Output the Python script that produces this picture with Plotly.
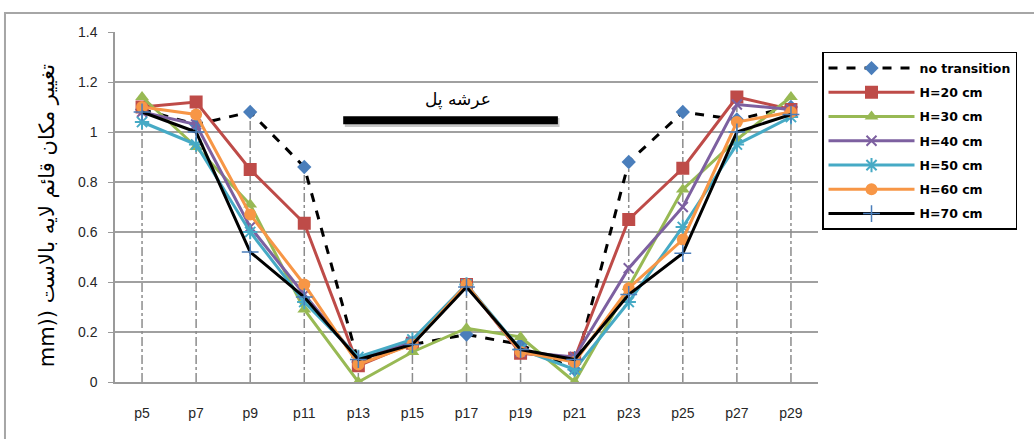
import plotly.graph_objects as go

categories = ["p5", "p7", "p9", "p11", "p13", "p15", "p17", "p19", "p21", "p23", "p25", "p27", "p29"]

no_transition = [1.09, 1.03, 1.08, 0.86, 0.08, 0.15, 0.19, 0.15, 0.05, 0.88, 1.08, 1.05, 1.10]
h20 = [1.10, 1.12, 0.85, 0.635, 0.065, 0.155, 0.39, 0.115, 0.095, 0.65, 0.855, 1.14, 1.09]
h30 = [1.14, 0.94, 0.71, 0.29, 0.00, 0.12, 0.215, 0.18, 0.00, 0.38, 0.77, 0.97, 1.14]
h40 = [1.08, 1.03, 0.62, 0.35, 0.09, 0.16, 0.39, 0.12, 0.10, 0.455, 0.70, 1.11, 1.09]
h50 = [1.04, 0.95, 0.60, 0.32, 0.10, 0.17, 0.39, 0.13, 0.05, 0.32, 0.62, 0.95, 1.06]
h60 = [1.10, 1.07, 0.67, 0.39, 0.07, 0.15, 0.39, 0.12, 0.08, 0.375, 0.57, 1.04, 1.08]
h70 = [1.08, 1.00, 0.52, 0.34, 0.09, 0.15, 0.38, 0.13, 0.09, 0.35, 0.515, 1.00, 1.07]

series_names = ["no transition", "H=20 cm", "H=30 cm", "H=40 cm", "H=50 cm", "H=60 cm", "H=70 cm"]
y_ticks = [0, 0.2, 0.4, 0.6, 0.8, 1, 1.2, 1.4]
y_tick_labels = ["0", "0.2", "0.4", "0.6", "0.8", "1", "1.2", "1.4"]
deck_label = "عرشه پل"
y_title = "mm)) تغییر مکان قائم لایه بالاست"

all_series = [no_transition, h20, h30, h40, h50, h60, h70]
styles = [
    dict(line=dict(color="black", width=3, dash="dash"), marker=dict(symbol="diamond", size=11, color="#4a7ebb")),
    dict(line=dict(color="#be4b48", width=3), marker=dict(symbol="square", size=13, color="#be4b48")),
    dict(line=dict(color="#98b954", width=3), marker=dict(symbol="triangle-up", size=12, color="#98b954")),
    dict(line=dict(color="#7d60a0", width=3), marker=dict(symbol="x-thin", size=10, color="#7d60a0", line=dict(width=2, color="#7d60a0"))),
    dict(line=dict(color="#46aac5", width=3), marker=dict(symbol="asterisk", size=12, color="#46aac5", line=dict(width=2, color="#46aac5"))),
    dict(line=dict(color="#f79646", width=3), marker=dict(symbol="circle", size=12, color="#f79646")),
    dict(line=dict(color="black", width=3), marker=dict(symbol="cross-thin", size=12, color="#4a7ebb", line=dict(width=1.5, color="#4a7ebb"))),
]

fig = go.Figure()

# drop lines from axis to highest value at each category
drop_x, drop_y = [], []
for i, c in enumerate(categories):
    top = max(s[i] for s in all_series)
    drop_x += [c, c, None]
    drop_y += [0, top, None]
fig.add_trace(go.Scatter(x=drop_x, y=drop_y, mode="lines", showlegend=False, hoverinfo="skip",
                         line=dict(color="#8c8c8c", width=1.5, dash="dashdot")))

for i, (name, vals, st) in enumerate(zip(series_names, all_series, styles)):
    fig.add_trace(go.Scatter(x=categories, y=vals, name=name, mode="lines+markers",
                             legendgroup=f"g{i}", line=st["line"], marker=st["marker"]))

# deck bar
fig.add_shape(type="line", x0=3.75, x1=7.72, y0=1.038, y1=1.038, xref="x", yref="y",
              line=dict(color="#c8c8c8", width=9))
fig.add_shape(type="line", x0=3.72, x1=7.69, y0=1.047, y1=1.047, xref="x", yref="y",
              line=dict(color="black", width=8))
fig.add_annotation(x=5.85, y=1.13, xref="x", yref="y", text=deck_label, showarrow=False,
                   font=dict(family="DejaVu Sans", size=17, color="black"))

# y title
fig.add_annotation(x=-0.117, y=0.477, xref="paper", yref="paper", text=y_title, textangle=-90,
                   showarrow=False, font=dict(family="DejaVu Sans", size=21, color="black"))

# outer frame
fig.add_shape(type="rect", xref="paper", yref="paper", x0=-0.1565, x1=1.31, y0=-0.2, y1=1.054,
              line=dict(color="#a6a6a6", width=2), layer="below")

fig.update_layout(
    width=1034, height=439,
    margin=dict(l=115, r=216, t=32, b=57),
    paper_bgcolor="white", plot_bgcolor="white",
    font=dict(family="Liberation Sans", size=14, color="#262626"),
    legend=dict(x=1.0057, y=0.943, xanchor="left", yanchor="top",
                bordercolor="black", borderwidth=1.5, bgcolor="white",
                font=dict(family="DejaVu Sans", size=12.5, color="black", weight="bold"),
                itemwidth=86, tracegroupgap=5),
    xaxis=dict(type="category", showgrid=False, showline=True, linecolor="#9a9a9a", linewidth=1.5,
               ticks="", ticklabelstandoff=17, range=[-0.5, 12.5]),
    yaxis=dict(range=[0, 1.4], tickvals=y_ticks, ticktext=y_tick_labels, showgrid=True,
               gridcolor="#a0a0a0", gridwidth=1.5, showline=True, linecolor="#9a9a9a", linewidth=1.5,
               ticks="outside", ticklen=5, tickcolor="#9a9a9a", ticklabelstandoff=8, zeroline=False),
)

fig.write_html("out.html", post_script="document.body.style.margin='0';",
               config={"displayModeBar": False})
